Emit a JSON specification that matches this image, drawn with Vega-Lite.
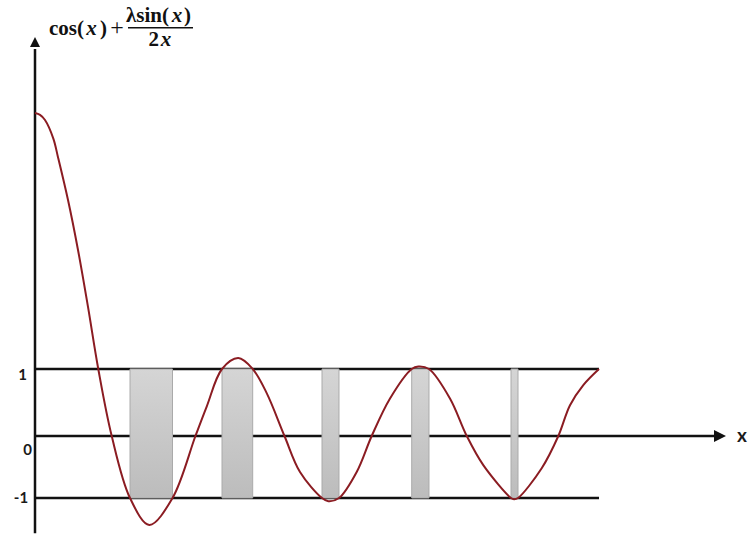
{
  "$schema": "https://vega.github.io/schema/vega-lite/v6.json",
  "width": 748,
  "height": 534,
  "autosize": "none",
  "padding": 0,
  "background": "white",
  "config": {"view": {"stroke": null}},
  "datasets": {
    "curve": [
      {"x": 0, "f": 5.0},
      {"x": 0.179, "f": 4.97},
      {"x": 0.357, "f": 4.89},
      {"x": 0.655, "f": 4.6},
      {"x": 0.821, "f": 4.31},
      {"x": 1.179, "f": 3.64},
      {"x": 1.536, "f": 2.86},
      {"x": 1.893, "f": 1.97},
      {"x": 2.26, "f": 1.0},
      {"x": 2.74, "f": 0},
      {"x": 3.393, "f": -1},
      {"x": 4.082, "f": -1.42},
      {"x": 4.911, "f": -1},
      {"x": 5.73, "f": 0},
      {"x": 6.132, "f": 0.44},
      {"x": 6.679, "f": 1},
      {"x": 7.26, "f": 1.17},
      {"x": 7.775, "f": 1},
      {"x": 8.275, "f": 0.64},
      {"x": 8.91, "f": 0},
      {"x": 9.464, "f": -0.58},
      {"x": 10.25, "f": -1},
      {"x": 10.475, "f": -1.05},
      {"x": 10.857, "f": -1},
      {"x": 11.489, "f": -0.58},
      {"x": 12.025, "f": 0},
      {"x": 12.679, "f": 0.56},
      {"x": 13.454, "f": 1},
      {"x": 13.689, "f": 1.04},
      {"x": 14.071, "f": 1},
      {"x": 14.82, "f": 0.56},
      {"x": 15.42, "f": 0},
      {"x": 16.01, "f": -0.47},
      {"x": 17.0, "f": -1},
      {"x": 17.107, "f": -1.02},
      {"x": 17.25, "f": -1},
      {"x": 18.096, "f": -0.52},
      {"x": 18.69, "f": 0},
      {"x": 19.107, "f": 0.46},
      {"x": 19.582, "f": 0.76},
      {"x": 20.143, "f": 1}
    ],
    "bands": [
      {"start": 3.393, "end": 4.911},
      {"start": 6.679, "end": 7.775},
      {"start": 10.25, "end": 10.857},
      {"start": 13.454, "end": 14.071},
      {"start": 17.0, "end": 17.25}
    ],
    "levels": [
      {"level": 1, "start": 0, "end": 20.143},
      {"level": 0, "start": 0, "end": 24.3},
      {"level": -1, "start": 0, "end": 20.143}
    ]
  },
  "layer": [
    {
      "data": {"name": "levels"},
      "mark": {"type": "rule", "color": "#111111", "strokeWidth": 2.5},
      "encoding": {
        "x": {"field": "start", "type": "quantitative", "axis": null,
              "scale": {"domain": [-1.25, 25.464], "range": [0, 748], "nice": false, "zero": false}},
        "x2": {"field": "end"},
        "y": {"field": "level", "type": "quantitative", "axis": null,
              "scale": {"domain": [-1.6, -1, 0, 1, 6.8], "range": [536.4, 498, 436, 369, -2.2], "nice": false, "zero": false}}
      }
    },
    {
      "data": {"values": [{}]},
      "mark": {"type": "rule", "color": "#111111", "strokeWidth": 2.5},
      "encoding": {
        "x": {"datum": 0, "type": "quantitative"},
        "y": {"datum": -1.55, "type": "quantitative"},
        "y2": {"datum": 6.0}
      }
    },
    {
      "data": {"values": [{}]},
      "mark": {"type": "point", "shape": "M 1 0 L -1 -1 L -1 1 Z", "size": 144, "filled": true, "color": "#111111", "opacity": 1},
      "encoding": {
        "x": {"datum": 24.464, "type": "quantitative"},
        "y": {"datum": 0, "type": "quantitative"}
      }
    },
    {
      "data": {"values": [{}]},
      "mark": {"type": "point", "shape": "M 0 -1 L 1 1 L -1 1 Z", "size": 100, "filled": true, "color": "#111111", "opacity": 1},
      "encoding": {
        "x": {"datum": 0, "type": "quantitative"},
        "y": {"datum": 6.109, "type": "quantitative"}
      }
    },
    {
      "data": {"name": "bands"},
      "mark": {
        "type": "rect",
        "stroke": "#aaaaaa",
        "strokeWidth": 1,
        "fill": {
          "gradient": "linear", "x1": 0, "y1": 0, "x2": 0, "y2": 1,
          "stops": [{"offset": 0, "color": "#d5d5d5"}, {"offset": 1, "color": "#bcbcbc"}]
        }
      },
      "encoding": {
        "x": {"field": "start", "type": "quantitative"},
        "x2": {"field": "end"},
        "y": {"datum": -1, "type": "quantitative"},
        "y2": {"datum": 1}
      }
    },
    {
      "data": {"name": "curve"},
      "mark": {"type": "line", "color": "#8b1c22", "strokeWidth": 2, "interpolate": "catmull-rom"},
      "encoding": {
        "x": {"field": "x", "type": "quantitative"},
        "y": {"field": "f", "type": "quantitative"}
      }
    },
    {
      "data": {"values": [{}]},
      "mark": {"type": "text", "text": "1", "font": "Lato", "fontWeight": "bold", "fontSize": 15, "color": "#1a1a1a", "align": "center", "baseline": "middle", "dx": -12.5, "dy": 6},
      "encoding": {"x": {"datum": 0, "type": "quantitative"}, "y": {"datum": 1, "type": "quantitative"}}
    },
    {
      "data": {"values": [{}]},
      "mark": {"type": "text", "text": "0", "font": "Lato", "fontWeight": "bold", "fontSize": 15, "color": "#1a1a1a", "align": "center", "baseline": "middle", "dx": -7.5, "dy": 14},
      "encoding": {"x": {"datum": 0, "type": "quantitative"}, "y": {"datum": 0, "type": "quantitative"}}
    },
    {
      "data": {"values": [{}]},
      "mark": {"type": "text", "text": "-1", "font": "Lato", "fontWeight": "bold", "fontSize": 15, "color": "#1a1a1a", "align": "center", "baseline": "middle", "dx": -14, "dy": 0},
      "encoding": {"x": {"datum": 0, "type": "quantitative"}, "y": {"datum": -1, "type": "quantitative"}}
    },
    {
      "data": {"values": [{}]},
      "mark": {"type": "text", "text": "x", "font": "Lato", "fontWeight": "bold", "fontSize": 19, "color": "#1a1a1a", "align": "center", "baseline": "middle", "dx": 22, "dy": 0},
      "encoding": {"x": {"datum": 24.464, "type": "quantitative"}, "y": {"datum": 0, "type": "quantitative"}}
    },
    {
      "data": {"values": [{}]},
      "mark": {"type": "text", "text": "cos(", "font": "Liberation Serif", "fontWeight": "bold", "fontSize": 21, "color": "#111111", "align": "right", "baseline": "alphabetic"},
      "encoding": {"x": {"datum": 1.75, "type": "quantitative"}, "y": {"datum": 6.219, "type": "quantitative"}}
    },
    {
      "data": {"values": [{}]},
      "mark": {"type": "text", "text": "x", "font": "Liberation Serif", "fontWeight": "bold", "fontStyle": "italic", "fontSize": 21, "color": "#111111", "align": "center", "baseline": "alphabetic"},
      "encoding": {"x": {"datum": 2.018, "type": "quantitative"}, "y": {"datum": 6.219, "type": "quantitative"}}
    },
    {
      "data": {"values": [{}]},
      "mark": {"type": "text", "text": ")", "font": "Liberation Serif", "fontWeight": "bold", "fontSize": 21, "color": "#111111", "align": "left", "baseline": "alphabetic"},
      "encoding": {"x": {"datum": 2.321, "type": "quantitative"}, "y": {"datum": 6.219, "type": "quantitative"}}
    },
    {
      "data": {"values": [{}]},
      "mark": {"type": "text", "text": "+", "font": "Liberation Serif", "fontWeight": "normal", "fontSize": 24, "color": "#111111", "align": "center", "baseline": "alphabetic"},
      "encoding": {"x": {"datum": 2.929, "type": "quantitative"}, "y": {"datum": 6.219, "type": "quantitative"}}
    },
    {
      "data": {"values": [{}]},
      "mark": {"type": "text", "text": "λsin(", "font": "Liberation Serif", "fontWeight": "bold", "fontSize": 21, "color": "#111111", "align": "right", "baseline": "alphabetic"},
      "encoding": {"x": {"datum": 4.786, "type": "quantitative"}, "y": {"datum": 6.422, "type": "quantitative"}}
    },
    {
      "data": {"values": [{}]},
      "mark": {"type": "text", "text": "x", "font": "Liberation Serif", "fontWeight": "bold", "fontStyle": "italic", "fontSize": 21, "color": "#111111", "align": "center", "baseline": "alphabetic"},
      "encoding": {"x": {"datum": 5.071, "type": "quantitative"}, "y": {"datum": 6.422, "type": "quantitative"}}
    },
    {
      "data": {"values": [{}]},
      "mark": {"type": "text", "text": ")", "font": "Liberation Serif", "fontWeight": "bold", "fontSize": 21, "color": "#111111", "align": "left", "baseline": "alphabetic"},
      "encoding": {"x": {"datum": 5.321, "type": "quantitative"}, "y": {"datum": 6.422, "type": "quantitative"}}
    },
    {
      "data": {"values": [{}]},
      "mark": {"type": "rule", "color": "#111111", "strokeWidth": 1.5},
      "encoding": {
        "x": {"datum": 3.321, "type": "quantitative"},
        "x2": {"datum": 5.643},
        "y": {"datum": 6.333, "type": "quantitative"}
      }
    },
    {
      "data": {"values": [{}]},
      "mark": {"type": "text", "text": "2", "font": "Liberation Serif", "fontWeight": "bold", "fontSize": 21, "color": "#111111", "align": "right", "baseline": "alphabetic"},
      "encoding": {"x": {"datum": 4.429, "type": "quantitative"}, "y": {"datum": 6.047, "type": "quantitative"}}
    },
    {
      "data": {"values": [{}]},
      "mark": {"type": "text", "text": "x", "font": "Liberation Serif", "fontWeight": "bold", "fontStyle": "italic", "fontSize": 21, "color": "#111111", "align": "center", "baseline": "alphabetic"},
      "encoding": {"x": {"datum": 4.679, "type": "quantitative"}, "y": {"datum": 6.047, "type": "quantitative"}}
    }
  ]
}
